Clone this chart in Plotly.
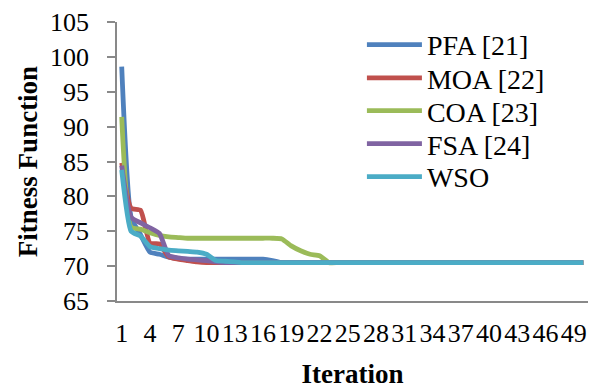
import plotly.graph_objects as go

iterations = list(range(1, 51))

pfa = [98.6, 77.0, 74.5, 72.0, 71.7, 71.3, 71.1, 71.0, 71.0, 71.0,
       71.0, 71.0, 71.0, 71.0, 71.0, 71.0, 70.8, 70.5, 70.5, 70.5] + [70.5] * 30
moa = [84.8, 78.3, 78.0, 73.3, 73.2, 71.3, 71.0, 70.8, 70.6, 70.5] + [70.5] * 40
coa = [91.4, 75.6, 75.3, 74.8, 74.4, 74.2, 74.1, 74.0, 74.0, 74.0,
       74.0, 74.0, 74.0, 74.0, 74.0, 74.0, 74.0, 73.9, 72.9, 72.2,
       71.7, 71.5, 70.5] + [70.5] * 27
fsa = [84.4, 77.0, 76.2, 75.5, 74.7, 71.5, 71.2, 71.0, 70.9, 70.8,
       70.6, 70.5] + [70.5] * 38
wso = [83.8, 75.0, 74.3, 72.8, 72.5, 72.3, 72.2, 72.1, 72.0, 71.7,
       70.8, 70.7, 70.6, 70.5] + [70.5] * 36

series = [
    ("PFA [21]", pfa, "#4F81BD"),
    ("MOA [22]", moa, "#C0504D"),
    ("COA [23]", coa, "#9BBB59"),
    ("FSA [24]", fsa, "#8064A2"),
    ("WSO", wso, "#4BACC6"),
]

tick_vals = list(range(1, 51, 3))
tick_text = [str(v) for v in tick_vals]

FONT = "Liberation Serif, Times New Roman, serif"

legend_rows_y = [0.918, 0.799, 0.681, 0.563, 0.445]
legend_names = ["legend", "legend2", "legend3", "legend4", "legend5"]

fig = go.Figure()
for (name, vals, color), lg in zip(series, legend_names):
    fig.add_trace(go.Scatter(
        x=iterations, y=vals, name=name, mode="lines", legend=lg,
        line=dict(color=color, width=4.8, shape="spline", smoothing=0.5),
    ))

legend_layout = {}
for lg, ly in zip(legend_names, legend_rows_y):
    legend_layout[lg] = dict(
        x=0.52, y=ly, xanchor="left", yanchor="middle",
        bgcolor="rgba(0,0,0,0)", font=dict(family=FONT, size=28),
        itemwidth=55,
    )

fig.update_layout(
    width=597, height=389,
    margin=dict(l=117, r=9, t=22, b=88),
    paper_bgcolor="white", plot_bgcolor="white",
    font=dict(family=FONT, size=26, color="black"),
    showlegend=True,
    xaxis=dict(
        range=[0.5, 50.5], tickvals=tick_vals, ticktext=tick_text,
        showline=True, linecolor="#898989", linewidth=1.5,
        ticks="", showgrid=False, zeroline=False, automargin=False,
        ticklabelstandoff=8,
        tickfont=dict(family=FONT, size=26),
        title=dict(text="<b>Iteration</b>", font=dict(family=FONT, size=27), standoff=24),
    ),
    yaxis=dict(
        range=[65, 105], dtick=5, tick0=65,
        showline=True, linecolor="#898989", linewidth=1.5,
        ticks="outside", ticklen=8, tickcolor="#898989", tickwidth=1.5,
        showgrid=False, zeroline=False, automargin=False,
        ticklabelstandoff=13,
        tickfont=dict(family=FONT, size=26),
        title=dict(text="<b>Fitness Function</b>", font=dict(family=FONT, size=27), standoff=5),
    ),
    **legend_layout,
)

fig.write_html("out.html", config={"displayModeBar": False},
               post_script="document.body.style.margin='0px';")
